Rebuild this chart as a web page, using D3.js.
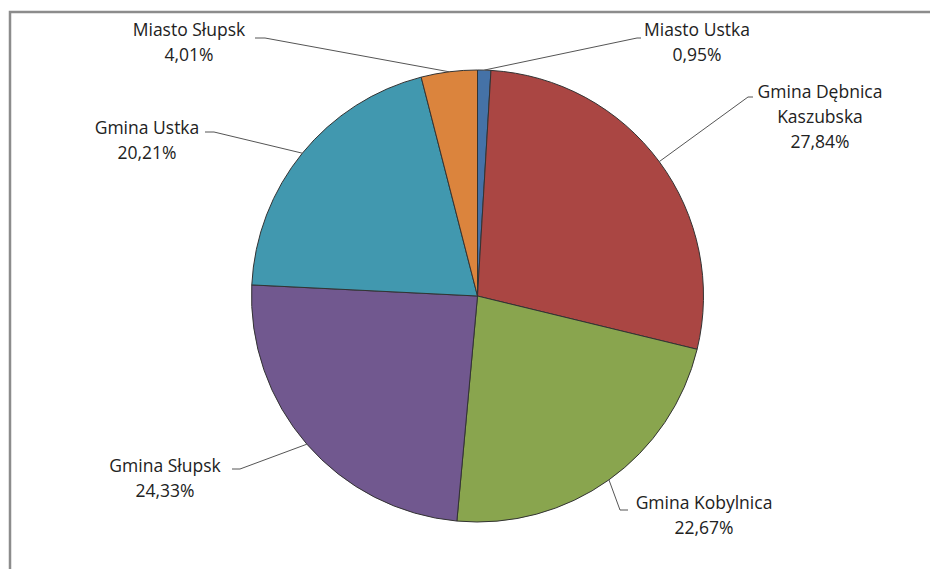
<!DOCTYPE html>
<html>
<head>
<meta charset="utf-8">
<script src="https://cdn.jsdelivr.net/npm/d3@7"></script>
<style>
  body { margin: 0; background: #fff; }
  text { font-family: "Open Sans", sans-serif; font-size: 17.5px; fill: #222; }
</style>
</head>
<body>
<div id="chart"></div>
<script>
const names = ["Miasto Ustka", "Gmina Dębnica Kaszubska", "Gmina Kobylnica", "Gmina Słupsk", "Gmina Ustka", "Miasto Słupsk"];
const shares = [0.95, 27.84, 22.67, 24.33, 20.21, 4.01];
const labelLines = [
    ["Miasto Ustka", "0,95%"],
    ["Gmina Dębnica", "Kaszubska", "27,84%"],
    ["Gmina Kobylnica", "22,67%"],
    ["Gmina Słupsk", "24,33%"],
    ["Gmina Ustka", "20,21%"],
    ["Miasto Słupsk", "4,01%"]
];
const colors = ["#4572A7", "#AA4643", "#89A54E", "#71588F", "#4198AF", "#DB843D"];

// where each label sits and where its leader line bends
const labelLayout = [
    { x: 697, y: 30, bend: [637, 38], end: [641, 38] },
    { x: 820, y: 92, bend: [748, 97], end: [753, 97] },
    { x: 704, y: 503, bend: [620, 510], end: [628, 510] },
    { x: 165, y: 466, bend: [240, 469], end: [232, 469] },
    { x: 147, y: 128, bend: [214, 132], end: [205, 132] },
    { x: 189, y: 30, bend: [265, 38], end: [255, 38] }
];

function createPie() {
    const width = 930, height = 569;
    const cx = 477.5, cy = 296, r = 226;

    const svg = d3.select("#chart").append("svg")
        .attr("width", width)
        .attr("height", height);

    svg.append("rect")
        .attr("x", 10).attr("y", 12)
        .attr("width", 960).attr("height", 600)
        .attr("fill", "none")
        .attr("stroke", "#8c8c8c")
        .attr("stroke-width", 2.5);

    const data = names.map((n, i) => ({ name: n, value: shares[i], i: i }));
    const pie = d3.pie().value(d => d.value).sort(null);
    const arc = d3.arc().innerRadius(0).outerRadius(r);
    const arcs = pie(data);

    const g = svg.append("g").attr("transform", `translate(${cx},${cy})`);

    g.selectAll("path.slice")
        .data(arcs)
        .enter().append("path")
        .attr("class", "slice")
        .attr("d", arc)
        .attr("fill", d => colors[d.data.i])
        .attr("stroke", "#333")
        .attr("stroke-width", 1);

    // leader lines
    svg.selectAll("path.leader")
        .data(arcs)
        .enter().append("path")
        .attr("class", "leader")
        .attr("fill", "none")
        .attr("stroke", "#555")
        .attr("stroke-width", 1)
        .attr("d", d => {
            const a = (d.startAngle + d.endAngle) / 2;
            const p0 = [cx + r * Math.sin(a), cy - r * Math.cos(a)];
            const L = labelLayout[d.data.i];
            return d3.line()([p0, L.bend, L.end]);
        });

    const labels = svg.selectAll("text.lbl")
        .data(arcs)
        .enter().append("text")
        .attr("class", "lbl")
        .attr("text-anchor", "middle")
        .attr("x", d => labelLayout[d.data.i].x)
        .attr("y", d => labelLayout[d.data.i].y);

    labels.selectAll("tspan")
        .data(d => labelLines[d.data.i].map(t => ({ t: t, x: labelLayout[d.data.i].x })))
        .enter().append("tspan")
        .attr("x", d => d.x)
        .attr("dy", (d, k) => k === 0 ? "0.35em" : 25)
        .text(d => d.t);
}

createPie();
</script>
</body>
</html>
